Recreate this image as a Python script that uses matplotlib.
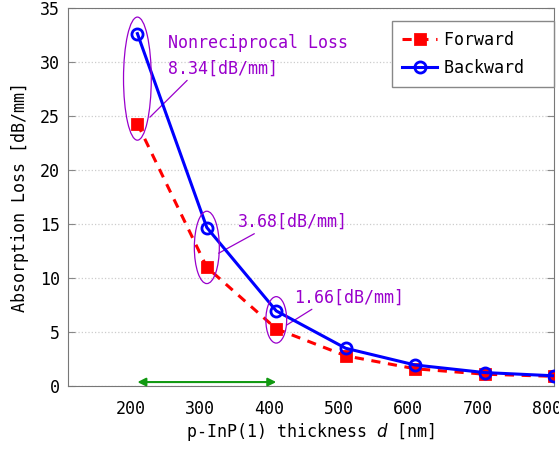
import matplotlib
matplotlib.use('Agg')
import matplotlib.pyplot as plt
import matplotlib.transforms as mtransforms
from matplotlib.patches import Ellipse

# data
thickness = [200, 300, 400, 500, 600, 700, 800]
forward = [24.3, 11.0, 5.3, 2.8, 1.6, 1.1, 0.9]
backward = [32.64, 14.68, 6.96, 3.5, 1.95, 1.25, 0.95]
diff_labels = ['8.34[dB/mm]', '3.68[dB/mm]', '1.66[dB/mm]']

plt.rcParams['font.family'] = ['DejaVu Sans Mono', 'Noto Sans CJK JP']
purple = '#9900cc'

fig = plt.figure(figsize=(5.59, 4.51), dpi=100)
ax = fig.add_axes([0.1216, 0.144, 0.8694, 0.838])

ax.plot(thickness, forward, color='red', ls=(0, (3, 2.5)), lw=2.2, marker='s',
        ms=6.5, mfc='red', mec='red', mew=2, label='Forward  ', zorder=3)
ax.plot(thickness, backward, color='blue', lw=2.2, marker='o',
        ms=8, mfc='none', mec='blue', mew=2, label='Backward  ', zorder=4)

# ellipses around the first three pairs
ell_h = [11.4, 6.7, 4.3]
ell_w = [40, 36, 30]
for i in range(3):
    cy = (forward[i] + backward[i]) / 2
    ax.add_patch(Ellipse((thickness[i], cy), ell_w[i], ell_h[i], fill=False,
                         ec=purple, lw=0.9, zorder=5))

ax.text(244, 31.8, 'Nonreciprocal Loss', color=purple, fontsize=12, va='center')
txt_pos = [(244, 29.4), (344, 15.2), (426, 8.2)]
line_end = [(218, 24.9), (317, 12.3), (415, 5.65)]
for lab, xy, xyt in zip(diff_labels, line_end, txt_pos):
    ax.annotate(lab, xy=xy, xytext=xyt, color=purple, fontsize=12, va='center',
                arrowprops=dict(arrowstyle='-', color=purple, lw=0.9,
                                shrinkA=0, shrinkB=0, relpos=(0.2, 0)))

# green range arrow
ax.annotate('', xy=(200, 0.37), xytext=(400, 0.37),
            arrowprops=dict(arrowstyle='<|-|>', color='#119911', lw=1.5,
                            mutation_scale=12, shrinkA=0, shrinkB=0))

ax.set_xlim(100, 800)
ax.set_ylim(0, 35)
ax.set_xticks(thickness)
ax.set_xticks([200, 400, 600, 800], minor=True)
ax.set_yticks(range(0, 36, 5))
ax.tick_params(axis='x', which='major', length=0, labelsize=12, pad=10)
ax.tick_params(axis='x', which='minor', direction='in', length=5,
               color='#888888', top=True, bottom=True)
ax.tick_params(axis='y', direction='in', length=5, color='#888888',
               right=True, labelsize=12, pad=6)
ax.grid(which='minor', axis='x', color='#cccccc', ls=':', lw=0.9)
ax.grid(which='major', axis='y', color='#cccccc', ls=':', lw=0.9)
ax.set_axisbelow(True)
for s in ax.spines.values():
    s.set_color('#777777')

# tick labels sit a little left of their ticks in the original
shift = mtransforms.ScaledTranslation(-7 / 100, 0, fig.dpi_scale_trans)
for t in ax.get_xticklabels():
    t.set_transform(t.get_transform() + shift)

ax.set_xlabel('p-InP(1) thickness $\\it{d}$ [nm]', fontsize=12, labelpad=2)
ax.set_ylabel('Absorption Loss [dB/mm]', fontsize=12, labelpad=8)

leg = ax.legend(loc='upper right', bbox_to_anchor=(1.0, 0.966), fontsize=12,
                fancybox=False, framealpha=1, edgecolor='#888888',
                handlelength=2.1, borderpad=0.6, labelspacing=0.6,
                handletextpad=0.4, borderaxespad=0)
leg.get_frame().set_linewidth(1)

fig.savefig('out.png', dpi=100)
